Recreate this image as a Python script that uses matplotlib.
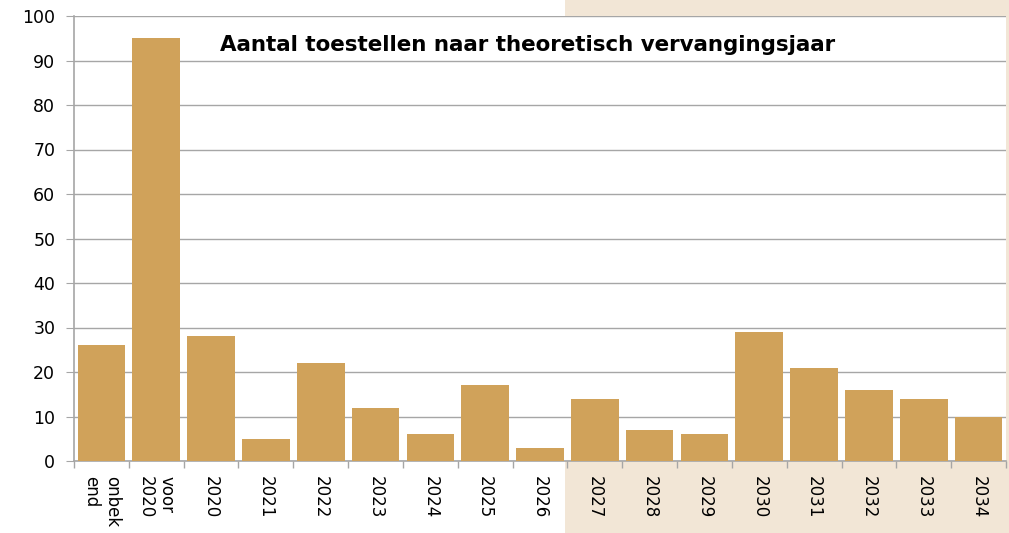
import matplotlib
matplotlib.use("Agg")
import matplotlib.pyplot as plt
import matplotlib.transforms as mtransforms
from matplotlib.patches import Rectangle
import numpy as np

# data
labels = ['onbek\nend', 'voor\n2020', '2020', '2021', '2022', '2023', '2024', '2025',
          '2026', '2027', '2028', '2029', '2030', '2031', '2032', '2033', '2034']
counts = [26, 95, 28, 5, 22, 12, 6, 17, 3, 14, 7, 6, 29, 21, 16, 14, 10]
title = 'Aantal toestellen naar theoretisch vervangingsjaar'
shade_from = 9  # first shaded category (2027)

bar_color = '#D0A25A'
shade_color = '#F2E6D6'
grid_color = '#A6A6A6'

fig = plt.figure(figsize=(10.09, 5.33), dpi=100)
ax = fig.add_axes([74/1009, 72/533, (1006-74)/1009, (461-16)/533])
ax.set_facecolor('white')

x = np.arange(len(counts))
ax.bar(x, counts, width=0.87, color=bar_color, zorder=3)
ax.set_xlim(-0.5, len(counts) - 0.5)
ax.set_ylim(0, 100)
ax.set_yticks(range(0, 101, 10))
ax.yaxis.grid(True, color=grid_color, linewidth=1.0, zorder=0)

# shaded band behind the axes for the later years
trans = mtransforms.blended_transform_factory(ax.transData, fig.transFigure)
fig.patches.append(Rectangle((shade_from - 0.55, 0), 20, 1, transform=trans,
                             facecolor=shade_color, edgecolor='none', zorder=-1))

ax.set_xticks(x)
ax.set_xticklabels(labels, rotation=270, fontsize=12, va='top', ha='center',
                   multialignment='left')
ax.set_xticks(np.arange(-0.5, len(counts)), minor=True)
ax.tick_params(axis='x', which='major', length=0, pad=11)
ax.tick_params(axis='x', which='minor', length=5, color=grid_color, width=1)
ax.tick_params(axis='y', length=5.5, color=grid_color, labelsize=12.5, pad=8)

for side in ['top', 'right']:
    ax.spines[side].set_visible(False)
for side in ['left', 'bottom']:
    ax.spines[side].set_color(grid_color)
    ax.spines[side].set_linewidth(1.2)

ax.text(0.487, 0.935, title, transform=ax.transAxes, ha='center', va='center',
        fontsize=15.4, fontweight='bold', zorder=5)

fig.savefig('out.png', dpi=100)
